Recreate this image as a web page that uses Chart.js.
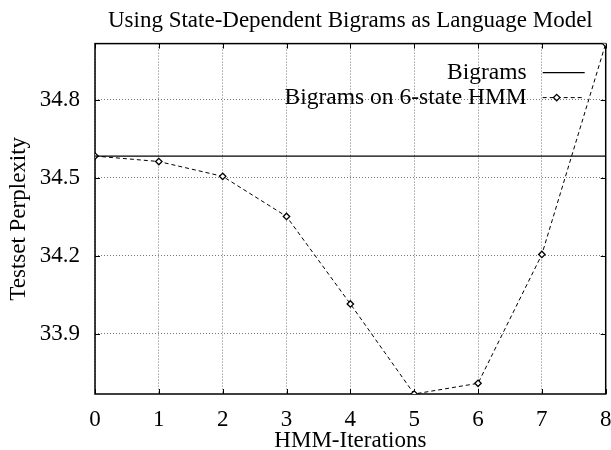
<!DOCTYPE html>
<html>
<head>
<meta charset="utf-8">
<script src="https://cdn.jsdelivr.net/npm/chart.js@4/dist/chart.umd.min.js"></script>
<style>
  html, body { margin: 0; padding: 0; background: #fff; }
</style>
</head>
<body>
<canvas id="chart" width="611" height="450"></canvas>
<script>
// values
const iterations = [0, 1, 2, 3, 4, 5, 6, 7, 8];
const hmmPerplexity = [34.583, 34.562, 34.505, 34.351, 34.015, 33.669, 33.710, 34.205, 35.015];
const bigramPerplexity = 34.583;
const yTickValues = [33.9, 34.2, 34.5, 34.8];
const xTickValues = iterations;

const serif = '"Liberation Serif", "Times New Roman", serif';

// gnuplot-ish frame with inward ticks on all four sides
const framePlugin = {
    id: 'frame',
    beforeDatasetsDraw(chart) {
        const {ctx, chartArea: a, scales} = chart;
        ctx.save();
        ctx.strokeStyle = '#000';
        ctx.lineWidth = 1;
        ctx.beginPath();
        yTickValues.forEach(v => {
            const y = Math.round(scales.y.getPixelForValue(v)) + 0.5;
            ctx.moveTo(a.left, y); ctx.lineTo(a.left + 5, y);
            ctx.moveTo(a.right, y); ctx.lineTo(a.right - 5, y);
        });
        xTickValues.forEach(v => {
            const x = Math.round(scales.x.getPixelForValue(v)) + 0.5;
            ctx.moveTo(x, a.bottom); ctx.lineTo(x, a.bottom - 5);
            ctx.moveTo(x, a.top); ctx.lineTo(x, a.top + 5);
        });
        ctx.stroke();
        ctx.lineWidth = 1.5;
        ctx.strokeRect(a.left, a.top, a.right - a.left, a.bottom - a.top);
        ctx.restore();
    }
};

// key in the top right corner, text right aligned, sample to its right
const keyPlugin = {
    id: 'key',
    afterDraw(chart) {
        const {ctx, chartArea: a} = chart;
        const textX = a.right - 79;
        const x0 = a.right - 63, x1 = a.right - 21;
        const rows = [a.top + 29, a.top + 54];
        ctx.save();
        ctx.font = '23.5px ' + serif;
        ctx.fillStyle = '#000';
        ctx.textAlign = 'right';
        ctx.textBaseline = 'middle';
        ctx.fillText('Bigrams', textX, rows[0]);
        ctx.fillText('Bigrams on 6-state HMM', textX, rows[1]);

        ctx.strokeStyle = '#000';
        ctx.lineWidth = 1.2;
        ctx.beginPath();
        ctx.moveTo(x0, rows[0]); ctx.lineTo(x1, rows[0]);
        ctx.stroke();

        ctx.lineWidth = 1;
        ctx.setLineDash([4, 3]);
        ctx.beginPath();
        ctx.moveTo(x0, rows[1]); ctx.lineTo(x1, rows[1]);
        ctx.stroke();
        ctx.setLineDash([]);

        const mx = (x0 + x1) / 2 - 7, my = rows[1], r = 3.2;
        ctx.fillStyle = '#fff';
        ctx.lineWidth = 1.3;
        ctx.beginPath();
        ctx.moveTo(mx, my - r); ctx.lineTo(mx + r, my); ctx.lineTo(mx, my + r); ctx.lineTo(mx - r, my);
        ctx.closePath();
        ctx.fill(); ctx.stroke();
        ctx.restore();
    }
};

const chart = new Chart(document.getElementById('chart'), {
    type: 'line',
    data: {
        datasets: [
            {
                label: 'Bigrams',
                data: iterations.map(i => ({x: i, y: bigramPerplexity})),
                borderColor: '#000',
                borderWidth: 1.2,
                pointRadius: 0,
                fill: false
            },
            {
                label: 'Bigrams on 6-state HMM',
                data: iterations.map((i, k) => ({x: i, y: hmmPerplexity[k]})),
                borderColor: '#000',
                borderWidth: 1,
                borderDash: [4, 3],
                pointStyle: 'rectRot',
                pointRadius: 3.2,
                pointBorderWidth: 1.3,
                pointBackgroundColor: '#fff',
                pointBorderColor: '#000',
                tension: 0,
                fill: false
            }
        ]
    },
    options: {
        responsive: false,
        animation: false,
        layout: {padding: {left: 0, right: 5, top: 0, bottom: 0}},
        plugins: {
            legend: {display: false},
            tooltip: {enabled: false},
            title: {
                display: true,
                text: 'Using State-Dependent Bigrams as Language Model',
                fullSize: false,
                color: '#000',
                font: {family: serif, size: 23, weight: 'normal'},
                padding: {top: 7, bottom: 9}
            }
        },
        scales: {
            x: {
                type: 'linear',
                min: 0,
                max: 8,
                afterBuildTicks: s => { s.ticks = xTickValues.map(v => ({value: v})); },
                afterFit: s => { s.height = 56; s.paddingLeft = 0; s.paddingRight = 0; },
                ticks: {
                    color: '#000',
                    padding: 12,
                    font: {family: serif, size: 23},
                    callback: v => String(v)
                },
                grid: {
                    color: '#777',
                    lineWidth: 1,
                    drawTicks: false
                },
                border: {display: false, dash: [1, 2]},
                title: {
                    display: true,
                    text: 'HMM-Iterations',
                    color: '#000',
                    font: {family: serif, size: 23, lineHeight: 0.8},
                    padding: {top: 0, bottom: 0}
                }
            },
            y: {
                type: 'linear',
                min: Math.min(...hmmPerplexity),
                max: Math.max(...hmmPerplexity),
                afterBuildTicks: s => { s.ticks = yTickValues.map(v => ({value: v})); },
                afterFit: s => { s.width = 95; },
                ticks: {
                    color: '#000',
                    padding: 15,
                    font: {family: serif, size: 23},
                    callback: v => v.toFixed(1)
                },
                grid: {
                    color: '#777',
                    lineWidth: 1,
                    drawTicks: false
                },
                border: {display: false, dash: [1, 2]},
                title: {
                    display: true,
                    text: 'Testset Perplexity',
                    color: '#000',
                    font: {family: serif, size: 23, lineHeight: 0.8},
                    padding: {top: 10, bottom: 0}
                }
            }
        }
    },
    plugins: [framePlugin, keyPlugin]
});
</script>
</body>
</html>
